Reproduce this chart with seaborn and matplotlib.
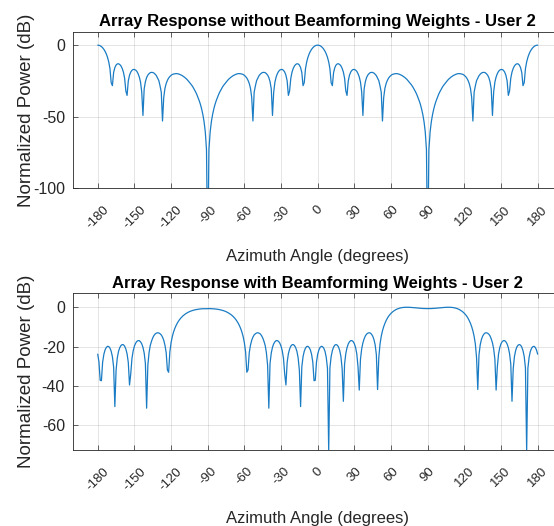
import numpy as np
import pandas as pd
import matplotlib
matplotlib.use("Agg")
import matplotlib.pyplot as plt
import seaborn as sns

# ---------------- data ----------------
azimuth = np.arange(-180, 181)   # 1-degree azimuth grid

db_without = [
    # -180 .. -90
    0.0, -0.1, -0.4, -1.0, -1.8, -2.9, -4.3, -6.1, -8.5, -11.7,
    -16.5, -26.2, -28.3, -19.1, -15.7, -13.9, -13.1, -13.0, -13.5, -14.5,
    -16.2, -18.8, -23.1, -32.0, -35.1, -25.0, -21.0, -18.8, -17.6, -17.0,
    -17.0, -17.4, -18.3, -19.9, -22.2, -25.8, -32.7, -49.1, -30.6, -25.5,
    -22.6, -20.9, -19.9, -19.2, -19.0, -19.1, -19.5, -20.3, -21.3, -23.0,
    -24.8, -28.5, -32.9, -53.0, -36.6, -30.2, -26.8, -24.6, -23.0, -21.9,
    -21.1, -20.5, -20.2, -20.0, -19.9, -19.9, -20.1, -20.4, -20.8, -21.2,
    -21.8, -22.4, -23.1, -23.9, -24.9, -25.8, -27.0, -28.1, -29.4, -30.9,
    -32.5, -34.3, -36.4, -38.7, -41.3, -44.5, -48.4, -53.4, -60.5, -73.0,
    -150.0,
    # -89 .. 0
    -73.0, -60.5, -53.4, -48.4, -44.5, -41.3, -38.7, -36.4, -34.3, -32.5,
    -30.9, -29.4, -28.1, -27.0, -25.8, -24.9, -23.9, -23.1, -22.4, -21.8,
    -21.2, -20.8, -20.4, -20.1, -19.9, -19.9, -20.0, -20.2, -20.5, -21.1,
    -21.9, -23.0, -24.6, -26.8, -30.2, -36.6, -53.0, -32.9, -28.5, -24.8,
    -23.0, -21.3, -20.3, -19.5, -19.1, -19.0, -19.2, -19.9, -20.9, -22.6,
    -25.5, -30.6, -49.1, -32.7, -25.8, -22.2, -19.9, -18.3, -17.4, -17.0,
    -17.0, -17.6, -18.8, -21.0, -25.0, -35.1, -32.0, -23.1, -18.8, -16.2,
    -14.5, -13.5, -13.0, -13.1, -13.9, -15.7, -19.1, -28.3, -26.2, -16.5,
    -11.7, -8.5, -6.1, -4.3, -2.9, -1.8, -1.0, -0.4, -0.1, 0.0,
    # 1 .. 90
    -0.1, -0.4, -1.0, -1.8, -2.9, -4.3, -6.1, -8.5, -11.7,
    -16.5, -26.2, -28.3, -19.1, -15.7, -13.9, -13.1, -13.0, -13.5, -14.5,
    -16.2, -18.8, -23.1, -32.0, -35.1, -25.0, -21.0, -18.8, -17.6, -17.0,
    -17.0, -17.4, -18.3, -19.9, -22.2, -25.8, -32.7, -49.1, -30.6, -25.5,
    -22.6, -20.9, -19.9, -19.2, -19.0, -19.1, -19.5, -20.3, -21.3, -23.0,
    -24.8, -28.5, -32.9, -53.0, -36.6, -30.2, -26.8, -24.6, -23.0, -21.9,
    -21.1, -20.5, -20.2, -20.0, -19.9, -19.9, -20.1, -20.4, -20.8, -21.2,
    -21.8, -22.4, -23.1, -23.9, -24.9, -25.8, -27.0, -28.1, -29.4, -30.9,
    -32.5, -34.3, -36.4, -38.7, -41.3, -44.5, -48.4, -53.4, -60.5, -73.0,
    -150.0,
    # 91 .. 180
    -73.0, -60.5, -53.4, -48.4, -44.5, -41.3, -38.7, -36.4, -34.3, -32.5,
    -30.9, -29.4, -28.1, -27.0, -25.8, -24.9, -23.9, -23.1, -22.4, -21.8,
    -21.2, -20.8, -20.4, -20.1, -19.9, -19.9, -20.0, -20.2, -20.5, -21.1,
    -21.9, -23.0, -24.6, -26.8, -30.2, -36.6, -53.0, -32.9, -28.5, -24.8,
    -23.0, -21.3, -20.3, -19.5, -19.1, -19.0, -19.2, -19.9, -20.9, -22.6,
    -25.5, -30.6, -49.1, -32.7, -25.8, -22.2, -19.9, -18.3, -17.4, -17.0,
    -17.0, -17.6, -18.8, -21.0, -25.0, -35.1, -32.0, -23.1, -18.8, -16.2,
    -14.5, -13.5, -13.0, -13.1, -13.9, -15.7, -19.1, -28.3, -26.2, -16.5,
    -11.7, -8.5, -6.1, -4.3, -2.9, -1.8, -1.0, -0.4, -0.1, 0.0,
]

db_with = [
    # -180 .. -91
    -23.9, -27.9, -37.2, -37.4, -28.0, -24.0, -21.7, -20.5, -19.9, -20.0,
    -20.8, -22.4, -25.2, -30.4, -50.6, -32.1, -25.8, -22.5, -20.6, -19.5,
    -19.0, -19.1, -19.8, -21.3, -23.7, -28.1, -39.6, -34.0, -26.0, -22.2,
    -19.8, -18.3, -17.4, -17.0, -17.0, -17.6, -18.6, -20.4, -23.3, -28.6,
    -51.4, -29.5, -23.1, -19.4, -17.3, -15.6, -14.4, -13.6, -13.2, -13.0,
    -13.1, -13.5, -14.1, -15.2, -16.8, -19.3, -23.1, -31.9, -33.1, -22.8,
    -18.1, -15.0, -12.7, -10.9, -9.44, -8.20, -7.18, -6.27, -5.50, -4.83,
    -4.24, -3.73, -3.29, -2.90, -2.55, -2.25, -1.99, -1.77, -1.58, -1.41,
    -1.25, -1.14, -1.03, -0.95, -0.87, -0.79, -0.77, -0.73, -0.70, -0.70,
    # -90 .. 0
    -0.70, -0.70, -0.70, -0.73, -0.77, -0.79, -0.87, -0.95, -1.03, -1.14,
    -1.25, -1.41, -1.58, -1.77, -1.99, -2.25, -2.55, -2.90, -3.29, -3.73,
    -4.24, -4.83, -5.50, -6.27, -7.18, -8.20, -9.44, -10.9, -12.7, -15.0,
    -18.1, -22.8, -33.1, -31.9, -23.1, -19.3, -16.8, -15.2, -14.1, -13.5,
    -13.1, -13.0, -13.2, -13.6, -14.4, -15.6, -17.3, -19.4, -23.1, -29.5,
    -51.4, -28.6, -23.3, -20.4, -18.6, -17.6, -17.0, -17.0, -17.4, -18.3,
    -19.8, -22.2, -26.0, -34.0, -39.6, -28.1, -23.7, -21.3, -19.8, -19.1,
    -19.0, -19.5, -20.6, -22.5, -25.8, -32.1, -50.6, -30.4, -25.2, -22.4,
    -20.8, -20.0, -19.9, -20.5, -21.7, -24.0, -28.0, -37.4, -37.2, -27.9,
    -23.9,
    # 1 .. 90
    -21.7, -20.4, -19.9, -20.1, -20.9, -22.5, -25.5, -31.1, -73.1, -30.9,
    -25.1, -22.1, -20.3, -19.3, -19.0, -19.3, -20.2, -22.0, -25.1, -31.3,
    -47.9, -28.9, -23.6, -20.6, -18.7, -17.6, -17.0, -17.0, -17.5, -18.6,
    -20.5, -23.8, -30.4, -42.2, -26.5, -21.2, -18.1, -16.1, -14.6, -13.7,
    -13.2, -13.0, -13.1, -13.7, -14.7, -16.4, -19.1, -24.1, -41.9, -25.7,
    -18.7, -14.8, -12.0, -9.9, -8.2, -6.8, -5.6, -4.6, -3.8, -3.1,
    -2.5, -2.0, -1.6, -1.2, -0.9, -0.66, -0.46, -0.30, -0.18, -0.10,
    -0.04, -0.01, 0.0, -0.01, -0.03, -0.07, -0.12, -0.17, -0.23, -0.29,
    -0.35, -0.42, -0.47, -0.53, -0.57, -0.62, -0.65, -0.67, -0.69, -0.69,
    # 91 .. 180
    -0.69, -0.67, -0.65, -0.62, -0.57, -0.53, -0.47, -0.42, -0.35, -0.29,
    -0.23, -0.17, -0.12, -0.07, -0.03, -0.01, 0.0, -0.01, -0.04, -0.10,
    -0.18, -0.30, -0.46, -0.66, -0.9, -1.2, -1.6, -2.0, -2.5, -3.1,
    -3.8, -4.6, -5.6, -6.8, -8.2, -9.9, -12.0, -14.8, -18.7, -25.7,
    -41.9, -24.1, -19.1, -16.4, -14.7, -13.7, -13.1, -13.0, -13.2, -13.7,
    -14.6, -16.1, -18.1, -21.2, -26.5, -42.2, -30.4, -23.8, -20.5, -18.6,
    -17.5, -17.0, -17.0, -17.6, -18.7, -20.6, -23.6, -28.9, -47.9, -31.3,
    -25.1, -22.0, -20.2, -19.3, -19.0, -19.3, -20.3, -22.1, -25.1, -30.9,
    -73.1, -31.1, -25.5, -22.5, -20.9, -20.1, -19.9, -20.4, -21.7, -23.9,
]

xtick_values = [-180, -150, -120, -90, -60, -30, 0, 30, 60, 90, 120, 150, 180]
xtick_labels = ["-180", "-150", "-120", "-90", "-60", "-30", "0",
                "30", "60", "90", "120", "150", "180"]
ytick_top = [0, -50, -100]
ytick_top_labels = ["0", "-50", "-100"]
ytick_bot = [0, -20, -40, -60]
ytick_bot_labels = ["0", "-20", "-40", "-60"]

title_top = "Array Response without Beamforming Weights - User 2"
title_bot = "Array Response with Beamforming Weights - User 2"
xlabel = "Azimuth Angle (degrees)"
ylabel = "Normalized Power (dB)"

assert len(db_without) == len(azimuth) == len(db_with)

# ---------------- style ----------------
sns.set_theme(style="white")
plt.rcParams["font.family"] = ["Liberation Sans", "DejaVu Sans"]

W, H = 554, 526
fig = plt.figure(figsize=(W / 100, H / 100), dpi=100)
fig.patch.set_facecolor("white")


def box(l, t, r, b):
    return [l / W, 1 - b / H, (r - l) / W, (b - t) / H]


ax1 = fig.add_axes(box(73.3, 31.7, 562.1, 188.3))
ax2 = fig.add_axes(box(73.3, 293.3, 562.1, 450.0))

line_color = "#1a7cc4"
edge = "#262626"

df_top = pd.DataFrame({"az": azimuth, "p": db_without})
df_bot = pd.DataFrame({"az": azimuth, "p": db_with})

sns.lineplot(data=df_top, x="az", y="p", ax=ax1, color=line_color, linewidth=0.9)
sns.lineplot(data=df_bot, x="az", y="p", ax=ax2, color=line_color, linewidth=0.9)

settings = [
    (ax1, title_top, (-100, 9.4), ytick_top, ytick_top_labels),
    (ax2, title_bot, (-72.7, 7.1), ytick_bot, ytick_bot_labels),
]
for ax, title, ylim, yt, ytl in settings:
    ax.set_facecolor("white")
    ax.set_xlim(-200, 200)
    ax.set_ylim(*ylim)
    ax.set_xticks(xtick_values)
    ax.set_xticklabels(xtick_labels, rotation=45, ha="center", va="top",
                       fontsize=9.5, color=edge)
    ax.set_yticks(yt)
    ax.set_yticklabels(ytl, fontsize=11.5, color=edge)
    ax.tick_params(axis="x", direction="in", length=3.5, width=0.5,
                   top=True, bottom=True, pad=11, colors=edge)
    ax.tick_params(axis="y", direction="in", length=3.5, width=0.5,
                   left=True, right=True, pad=6, colors=edge)
    ax.grid(True, color=edge, alpha=0.17, linewidth=0.5)
    for s in ax.spines.values():
        s.set_visible(True)
        s.set_color(edge)
        s.set_linewidth(0.6)
    ax.set_title(title, fontsize=12, fontweight="bold", color="black", pad=4)
    ax.set_xlabel(xlabel, fontsize=12, color=edge)
    ax.set_ylabel(ylabel, fontsize=13.5, color=edge)
    ax.xaxis.set_label_coords(0.5, -0.39)
    ax.yaxis.set_label_coords(-0.079, 0.5)

fig.savefig("out.png", dpi=100, facecolor="white")
